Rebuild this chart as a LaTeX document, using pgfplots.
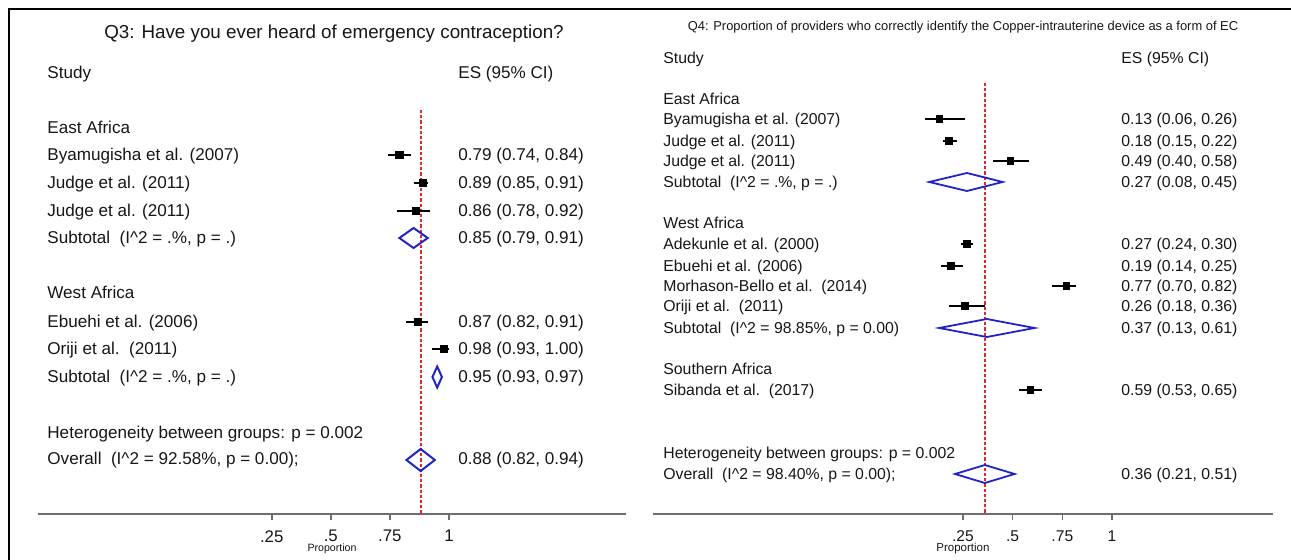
\documentclass[border=0pt]{standalone}
\usepackage{pgfplots}
\pgfplotsset{compat=1.18}
\usepackage{pgfplotstable}
\usepackage{fontspec}
\setmainfont{Liberation Sans}

\definecolor{fpred}{HTML}{E3262A}
\definecolor{fpblue}{HTML}{2222CC}
\definecolor{txt}{HTML}{161616}
\definecolor{axgray}{HTML}{6E6E6E}

\newcommand\lfont{\fontsize{8.55pt}{10pt}\selectfont}
\newcommand\rfont{\fontsize{7.9pt}{9pt}\selectfont}
\newcommand\ltitle{\fontsize{9.4pt}{11pt}\selectfont}
\newcommand\rtitle{\fontsize{6.45pt}{7pt}\selectfont}
\newcommand\caret{\textasciicircum}

% left panel: es, lower, upper, row (pixel y)
\pgfplotstableread{
es   lo   hi   row
0.79 0.74 0.84 155
0.89 0.85 0.91 183
0.86 0.78 0.92 211
0.87 0.82 0.91 322
0.98 0.93 1.00 349
}\leftstudies

\pgfplotstableread{
es   lo   hi   row
0.13 0.06 0.26 119
0.18 0.15 0.22 141
0.49 0.40 0.58 161
0.27 0.24 0.30 244
0.19 0.14 0.25 266
0.77 0.70 0.82 286
0.26 0.18 0.36 306
0.59 0.53 0.65 390
}\rightstudies

\pgfplotsset{
  fpaxis/.style={
    anchor=south west, clip=false,
    axis x line*=bottom, axis y line=none,
    axis line style={axgray, line width=1pt},
    xtick={0.25,0.5,0.75,1}, xticklabels={.25,.5,.75,1},
    tick align=outside, major tick length=3pt,
    tick style={axgray, line width=0.8pt},
    xlabel={Proportion},
  },
  study/.style={only marks, mark=square*, black,
    error bars/x dir=both, error bars/x explicit, error bars/error mark=none,
    error bars/error bar style={line width=#1, black}},
}

\begin{document}
\begin{tikzpicture}
\useasboundingbox (0,0) rectangle (645.5pt,-280pt);

% ---------------- left panel ----------------
\begin{axis}[fpaxis,
  at={(19pt,-257pt)},
  x=118.2pt, y=0.5pt,
  xmin=-0.7386, xmax=1.7487, ymin=-514, ymax=-100,
  xticklabel style={font=\fontsize{8.4pt}{9pt}\selectfont, text=txt, inner sep=0pt, anchor=north, yshift=-5pt},
  xlabel style={font=\fontsize{5.3pt}{6pt}\selectfont, text=txt, inner sep=0pt, anchor=center, at={(axis description cs:0.5,0)}, yshift=-17.5pt},
]
\addplot[fpred, line width=0.9pt, dash pattern=on 1.6pt off 1pt] coordinates {(0.88,-110) (0.88,-514)};
\addplot[study=1pt, mark size=1.8pt] table[x=es, y expr=-\thisrow{row},
   x error plus expr=\thisrow{hi}-\thisrow{es},
   x error minus expr=\thisrow{es}-\thisrow{lo}] {\leftstudies};
\addplot[fpblue, line width=1pt, line join=miter] coordinates {(0.79,-238) (0.85,-228) (0.91,-238) (0.85,-248) (0.79,-238) (0.85,-228)};
\addplot[fpblue, line width=1pt, line join=miter] coordinates {(0.93,-377) (0.95,-366.5) (0.97,-377) (0.95,-387.5) (0.93,-377) (0.95,-366.5)};
\addplot[fpblue, line width=1pt, line join=miter] coordinates {(0.82,-460) (0.88,-449) (0.94,-460) (0.88,-471) (0.82,-460) (0.88,-449)};
\end{axis}

% ---------------- right panel ----------------
\begin{axis}[fpaxis,
  at={(326.5pt,-257pt)},
  x=99.35pt, y=0.5pt,
  xmin=-1.31, xmax=1.810, ymin=-514, ymax=-80,
  xticklabel style={font=\fontsize{7.8pt}{9pt}\selectfont, text=txt, inner sep=0pt, anchor=north, yshift=-5pt},
  xlabel style={font=\fontsize{5.75pt}{6pt}\selectfont, text=txt, inner sep=0pt, anchor=center, at={(axis description cs:0.5,0)}, yshift=-17.5pt},
]
\addplot[fpred, line width=0.9pt, dash pattern=on 1.6pt off 1pt] coordinates {(0.36,-83) (0.36,-514)};
\addplot[study=0.9pt, mark size=1.6pt] table[x=es, y expr=-\thisrow{row},
   x error plus expr=\thisrow{hi}-\thisrow{es},
   x error minus expr=\thisrow{es}-\thisrow{lo}] {\rightstudies};
\addplot[fpblue, line width=0.9pt, line join=miter] coordinates {(0.08,-182) (0.27,-173) (0.45,-182) (0.27,-191) (0.08,-182) (0.27,-173)};
\addplot[fpblue, line width=0.9pt, line join=miter] coordinates {(0.13,-328) (0.37,-319) (0.61,-328) (0.37,-337) (0.13,-328) (0.37,-319)};
\addplot[fpblue, line width=0.9pt, line join=miter] coordinates {(0.21,-474) (0.36,-465) (0.51,-474) (0.36,-483) (0.21,-474) (0.36,-465)};
\end{axis}

% ---------------- texts and frame (pixel coordinates) ----------------
\begin{scope}[x=0.5pt, y=-0.5pt, every node/.style={inner sep=0pt, text=txt}]
\draw[black, line width=1pt] (9,560) -- (9,9) -- (1291,9);

% left
\node[anchor=base, font=\ltitle] at (334,38.7) {Q3: Have you ever heard of emergency contraception?};
\begin{scope}[every node/.append style={anchor=base west, font=\lfont}]
\node at (47,79) {Study};
\node at (458,79) {ES (95\% CI)};
\node at (47,134) {East Africa};
\node at (47,161) {Byamugisha et al. (2007)};
\node at (47,189) {Judge et al. (2011)};
\node at (47,217) {Judge et al. (2011)};
\node at (47,244) {Subtotal\ \ (I\caret 2 = .\%, p = .)};
\node at (47,299) {West Africa};
\node at (47,328) {Ebuehi et al. (2006)};
\node at (47,355) {Oriji et al.\ \ (2011)};
\node at (47,383) {Subtotal\ \ (I\caret 2 = .\%, p = .)};
\node at (47,439) {Heterogeneity between groups: p = 0.002};
\node at (47,465) {Overall\ \ (I\caret 2 = 92.58\%, p = 0.00);};
\node at (458,161) {0.79 (0.74, 0.84)};
\node at (458,189) {0.89 (0.85, 0.91)};
\node at (458,217) {0.86 (0.78, 0.92)};
\node at (458,244) {0.85 (0.79, 0.91)};
\node at (458,328) {0.87 (0.82, 0.91)};
\node at (458,355) {0.98 (0.93, 1.00)};
\node at (458,383) {0.95 (0.93, 0.97)};
\node at (458,465) {0.88 (0.82, 0.94)};
\end{scope}

% right
\node[anchor=base, font=\rtitle] at (963,30.5) {Q4: Proportion of providers who correctly identify the Copper-intrauterine device as a form of EC};
\begin{scope}[every node/.append style={anchor=base west, font=\rfont}]
\node at (663,63.5) {Study};
\node at (1121,63.5) {ES (95\% CI)};
\node at (663,104.5) {East Africa};
\node at (663,124.5) {Byamugisha et al. (2007)};
\node at (663,146.5) {Judge et al. (2011)};
\node at (663,166.5) {Judge et al. (2011)};
\node at (663,187.5) {Subtotal\ \ (I\caret 2 = .\%, p = .)};
\node at (663,228.5) {West Africa};
\node at (663,249.5) {Adekunle et al. (2000)};
\node at (663,271.5) {Ebuehi et al. (2006)};
\node at (663,291.5) {Morhason-Bello et al.\ \ (2014)};
\node at (663,311.5) {Oriji et al.\ \ (2011)};
\node at (663,333.5) {Subtotal\ \ (I\caret 2 = 98.85\%, p = 0.00)};
\node at (663,374.5) {Southern Africa};
\node at (663,395.5) {Sibanda et al.\ \ (2017)};
\node at (663,458.5) {Heterogeneity between groups: p = 0.002};
\node at (663,479.5) {Overall\ \ (I\caret 2 = 98.40\%, p = 0.00);};
\node at (1121,124.5) {0.13 (0.06, 0.26)};
\node at (1121,146.5) {0.18 (0.15, 0.22)};
\node at (1121,166.5) {0.49 (0.40, 0.58)};
\node at (1121,187.5) {0.27 (0.08, 0.45)};
\node at (1121,249.5) {0.27 (0.24, 0.30)};
\node at (1121,271.5) {0.19 (0.14, 0.25)};
\node at (1121,291.5) {0.77 (0.70, 0.82)};
\node at (1121,311.5) {0.26 (0.18, 0.36)};
\node at (1121,333.5) {0.37 (0.13, 0.61)};
\node at (1121,395.5) {0.59 (0.53, 0.65)};
\node at (1121,479.5) {0.36 (0.21, 0.51)};
\end{scope}
\end{scope}
\end{tikzpicture}
\end{document}
